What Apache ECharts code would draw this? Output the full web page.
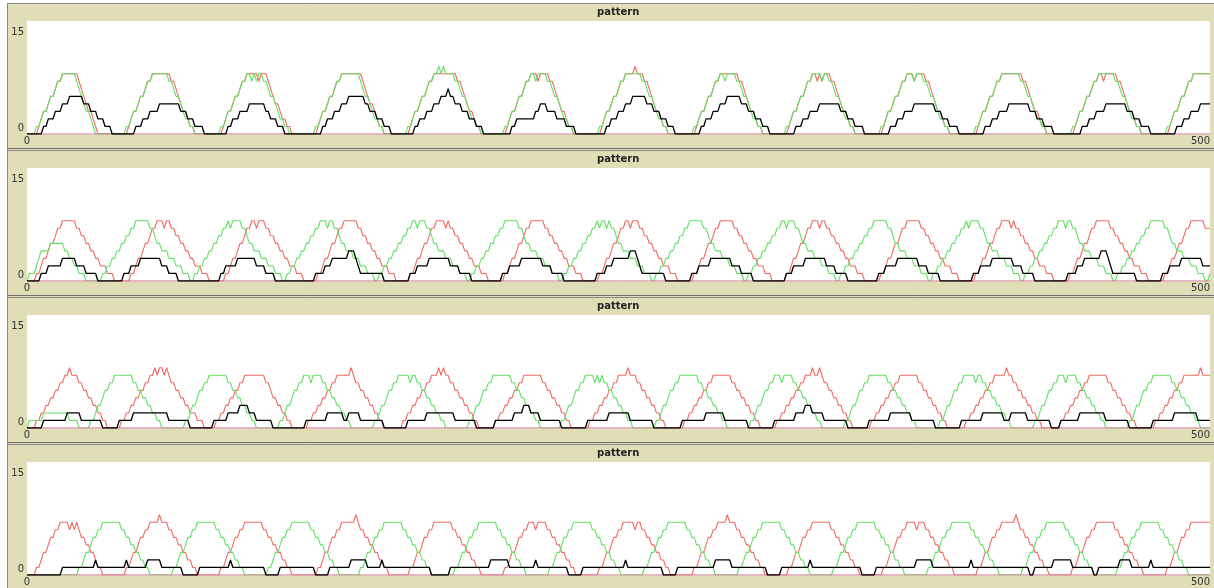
<!DOCTYPE html>
<html><head><meta charset="utf-8">
<script src="https://cdn.jsdelivr.net/npm/echarts@6/dist/echarts.min.js"></script>
<style>html,body{margin:0;padding:0;background:#fff}#c{width:1214px;height:588px}</style>
</head><body><div id="c"></div>
<script>
// ---------- tick labels ----------
const xTickValues = [0, 500];
const yTickValues = [0, 15];
const panelTitles = ['pattern', 'pattern', 'pattern', 'pattern'];
const baselineTicks = [0, 500];
const baselineValues = [0, 0];

// ---------- values per tick (digit strings) or [value, run] pairs ----------
// Panel 1
const p1Green = ["000",
 "0112334556778"+"88888"+"7654332100"+"0000000000",
 "0112334556778"+"888888"+"776554322110"+"000000000",
 "0112334556778"+"878788"+"776554322110"+"000000000",
 "0112334556778"+"8888888"+"76554322110"+"00000000",
 "0112334556778"+"89898888"+"776554322110"+"00000000",
 "0112334556778"+"878888"+"776554322110"+"000000000",
 "0112334556778"+"888888"+"776554322110"+"000000000",
 "0112334556778"+"878888"+"776554322110"+"00000000",
 "0112334556778"+"888788"+"776554322110"+"000000000",
 "0112334556778"+"887888"+"776554322110"+"000000000",
 "0112334556778"+"8888888"+"776554322110"+"000000000",
 "0112334556778"+"888888"+"776554322110"+"000000000",
 "0112334556778"+"8888888"];
const p1Red = ["000",
 "0012334556778"+"88888"+"8765433210"+"0000000000",
 "0012334556778"+"888888"+"877654332110"+"000000000",
 "0012334556778"+"888878"+"8876544322110"+"00000000",
 "0012334556778"+"8888888"+"87654432110"+"00000000",
 "0012334556778"+"88888888"+"877654332110"+"00000000",
 "0012334556778"+"887888"+"877654332110"+"000000000",
 "0012334556778"+"888988"+"877654332110"+"000000000",
 "0012334556778"+"888888"+"877654332110"+"00000000",
 "0012334556778"+"878788"+"877654332110"+"000000000",
 "0012334556778"+"887888"+"877654332110"+"000000000",
 "0012334556778"+"8888888"+"877654332110"+"000000000",
 "0012334556778"+"878888"+"877654332110"+"000000000",
 "0012334556778"+"8888888"];
const p1Black = ["000",
 "0000"+"11"+"222"+"333"+"444"+"555555"+"444"+"333"+"222"+"111"+"00000",
 "00000"+"111"+"222"+"3333"+"444444444"+"333"+"222"+"1111"+"000000",
 "0000"+"11"+"222"+"3333"+"4444444"+"33"+"222"+"111"+"000000000000",
 "0000"+"11"+"222"+"333"+"444"+"5555555"+"44"+"333"+"222"+"111"+"000000",
 "0000"+"11"+"222"+"333"+"444"+"555655"+"444"+"333"+"222"+"111"+"00000000",
 "0000"+"11"+"22222222"+"33"+"444"+"3333"+"2222"+"1111"+"000000000",
 "0000"+"11"+"222"+"333"+"444"+"555555"+"444"+"333"+"222"+"111"+"0000000",
 "0000"+"11"+"222"+"333"+"444"+"555555"+"444"+"333"+"222"+"111"+"000000",
 "00000"+"111"+"222"+"3333"+"444444444"+"333"+"222"+"1111"+"000000",
 "00000"+"111"+"222"+"3333"+"444444444"+"333"+"222"+"1111"+"000000",
 "00000"+"111"+"222"+"3333"+"444444444"+"333"+"222"+"1111"+"0000000",
 "00000"+"111"+"222"+"3333"+"444444444"+"333"+"222"+"1111"+"000000",
 "00000"+"111"+"222"+"3333"+"44444"];

// Panel 2
const p2Green = ["0111234444555555443322111000000",
 "011223344556677"+"888888"+"776554443332221110",
 "011223344556677"+"878888"+"776554443332221110",
 "011223344556677"+"888788"+"776554443332221110",
 "011223344556677"+"887888"+"776554443332221110",
 "011223344556677"+"888888"+"776554443332221110",
 "011223344556677"+"878878"+"776554443332221110",
 "011223344556677"+"888888"+"776554443332221110",
 "011223344556677"+"887888"+"776554443332221110",
 "011223344556677"+"888888"+"776554443332221110",
 "011223344556677"+"878888"+"776554443332221110",
 "011223344556677"+"888788"+"776554443332221110",
 "011223344556677"+"888888"+"776554443332221110",
 "01"];
const p2Red = ["000",
 "0112334556778"+"88888"+"776655443322211100"+"0000",
 "0112334556778"+"88788"+"776655443322211100"+"0000",
 "0112334556778"+"87888"+"776655443322211100"+"000",
 "0112334556778"+"88888"+"776655443322211100"+"000",
 "0112334556778"+"88878"+"776655443322211100"+"0000",
 "0112334556778"+"88888"+"776655443322211100"+"0000",
 "0112334556778"+"87888"+"776655443322211100"+"0000",
 "0112334556778"+"88888"+"776655443322211100"+"000",
 "0112334556778"+"88788"+"776655443322211100"+"0000",
 "0112334556778"+"88888"+"776655443322211100"+"0000",
 "0112334556778"+"88878"+"776655443322211100"+"0000",
 "0112334556778"+"88888"+"776655443322211100"+"0000",
 "0112334556778"+"88888"+"777"];
const p2Black = ["00000",
 "0"+"111"+"222222"+"333333"+"2222"+"11111"+"0000000000",
 "0"+"111"+"2222"+"333333333"+"222"+"1111"+"00000000000000000",
 "0"+"11"+"22222"+"33333333"+"2222"+"1111"+"0000000000000000",
 "0"+"1111"+"222"+"3333333"+"444"+"3"+"2"+"1111111111"+"0000000000",
 "0"+"111"+"22222"+"333333333"+"2222"+"11111"+"000000000000",
 "0"+"111"+"22222"+"333333333"+"2222"+"11111"+"0000000000000",
 "0"+"1111"+"222"+"3333333"+"444"+"3"+"2"+"1111111111"+"0000000000",
 "0"+"111"+"22222"+"333333333"+"2222"+"11111"+"0000000000000",
 "0"+"111"+"22222"+"333333333"+"2222"+"11111"+"000000000000",
 "0"+"111"+"22222"+"333333333"+"2222"+"11111"+"0000000000000",
 "0"+"111"+"22222"+"333333333"+"2222"+"11111"+"0000000000000",
 "0"+"1111"+"222"+"3333333"+"444"+"3"+"2"+"1111111111"+"0000000000",
 "0"+"111"+"22222"+"333333333"+"2222"];

// Panel 3
const p3Green = ["0"+"111111"+"22222222222"+"1111"+"0000",
 "0112334556677"+"777777"+"66554433221100"+"0000000",
 "0112334556677"+"777777"+"66554433221100"+"0000000",
 "0112334556677"+"767777"+"66554433221100"+"0000000",
 "0112334556677"+"777677"+"66554433221100"+"0000000",
 "0112334556677"+"777777"+"66554433221100"+"000000",
 "0112334556677"+"776767"+"66554433221100"+"0000000",
 "0112334556677"+"777777"+"66554433221100"+"0000000",
 "0112334556677"+"767777"+"66554433221100"+"0000000",
 "0112334556677"+"777777"+"66554433221100"+"0000000",
 "0112334556677"+"777677"+"66554433221100"+"0000000",
 "0112334556677"+"767777"+"66554433221100"+"0000000",
 "0112334556677"+"777777"+"66554433221100"+"000"];
const p3Red = ["000",
 "011223344556677"+"8777"+"665544332211"+"00000",
 "011223344556677"+"878878"+"7665544332221110"+"000",
 "01122334455667"+"77777777"+"665443322110"+"00000",
 "011223344556677"+"777787"+"6655443322110"+"000000",
 "011223344556677"+"787877"+"6655443322110"+"00000",
 "011223344556677"+"777777"+"6655443322110"+"000000",
 "011223344556677"+"778777"+"6655443322110"+"000000",
 "011223344556677"+"777777"+"6655443322110"+"00000",
 "011223344556677"+"787787"+"6655443322110"+"000000",
 "011223344556677"+"777777"+"6655443322110"+"000000",
 "011223344556677"+"777877"+"6655443322110"+"000000",
 "011223344556677"+"777777"+"6655443322110"+"000000",
 "011223344556677"+"7777787777"];
const p3Black = [[0,7],[1,10],[2,6],[1,9],[0,7],[1,6],[2,15],[1,9],[0,10],[1,6],[2,5],[3,4],[2,3],[1,7],[0,14],
 [1,9],[2,7],[1,2],[2,5],[1,10],[0,6],[0,4],[1,8],[2,12],[1,9],[0,8],[1,8],[2,4],[3,3],[2,4],[1,9],[0,11],
 [1,9],[2,9],[1,10],[0,12],[1,10],[2,8],[1,10],[0,11],[1,9],[2,4],[3,3],[2,5],[1,10],[0,9],[1,9],[2,9],[1,10],
 [0,11],[1,9],[2,9],[1,3],[2,7],[1,10],[0,4],[1,8],[2,11],[1,10],[0,10],[1,9],[2,10],[1,6]];

// Panel 4
const p4Red = ["000",
 "0112334556677"+"776767"+"65544332110"+"00000000",
 "0112334556677"+"778777"+"6655443322110"+"00000000",
 "0112334556677"+"777777"+"6655443322110"+"000000000",
 "0112334556677"+"777787"+"6655443322110"+"0000000",
 "0112334556677"+"777777"+"6655443322110"+"00000000",
 "0112334556677"+"767777"+"6655443322110"+"00000000",
 "0112334556677"+"777677"+"6655443322110"+"00000000",
 "0112334556677"+"778777"+"6655443322110"+"00000000",
 "0112334556677"+"777777"+"6655443322110"+"00000000",
 "0112334556677"+"776777"+"6655443322110"+"00000000",
 "0112334556677"+"777787"+"6655443322110"+"00000000",
 "0112334556677"+"777777"+"6655443322110"+"00000000",
 "0112334556677"+"7777777"];
const p4Green = ["000000000000000000000",
 "0112334556677"+"777777"+"6655443322110"+"00000000",
 "0112334556677"+"777777"+"6655443322110"+"00000000",
 "0112334556677"+"777777"+"6655443322110"+"0000000",
 "0112334556677"+"777777"+"6655443322110"+"00000000",
 "0112334556677"+"777777"+"6655443322110"+"00000000",
 "0112334556677"+"777777"+"6655443322110"+"00000000",
 "0112334556677"+"777777"+"6655443322110"+"00000000",
 "0112334556677"+"777777"+"6655443322110"+"00000000",
 "0112334556677"+"777777"+"6655443322110"+"00000000",
 "0112334556677"+"777777"+"6655443322110"+"00000000",
 "0112334556677"+"777777"+"6655443322110"+"00000000",
 "0112334556677"+"777777"+"6655443322110"+"000000000"];
const p4Black = [[0,15],[1,14],[2,1],[1,12],[2,1],[1,8],[2,6],[1,9],[0,7],[1,13],[2,1],[1,14],[0,6],[1,15],[0,6],
 [1,9],[2,7],[1,6],[2,1],[1,8],[1,12],[0,8],[1,17],[2,8],[1,11],[2,1],[1,13],[0,6],[1,18],[2,1],[1,15],[0,6],
 [1,16],[2,7],[1,15],[0,6],[1,12],[2,1],[1,21],[0,6],[1,17],[2,7],[1,16],[2,1],[1,24],[0,2],[1,8],[2,8],[1,9],
 [0,2],[1,9],[2,5],[1,8],[2,1],[1,25]];

// ---------- build ----------
function decode(parts) {
  const out = [];
  for (const p of parts) {
    if (typeof p === 'string') { for (const ch of p) out.push(+ch); }
    else { for (let i = 0; i < p[1]; i++) out.push(p[0]); }
  }
  return out.map((v, i) => [i, v]);
}
const panels = [
  {red: p1Red, green: p1Green, black: p1Black},
  {red: p2Red, green: p2Green, black: p2Black},
  {red: p3Red, green: p3Green, black: p3Black},
  {red: p4Red, green: p4Green, black: p4Black}
];
const COL = {red: '#f06a62', green: '#62e062', black: '#000000', pink: '#d8659f'};
const FONT = 'DejaVu Sans';
const grids = [], xAxes = [], yAxes = [], series = [], titles = [], graphics = [];
const W = 1214, STEP = 147;
graphics.push({type: 'rect', shape: {x: 0, y: 0, width: 7, height: 588}, style: {fill: '#fff'}, silent: true});
graphics.push({type: 'rect', shape: {x: 0, y: 0, width: W, height: 3}, style: {fill: '#fff'}, silent: true});
graphics.push({type: 'line', shape: {x1: 7.5, y1: 3, x2: 7.5, y2: 588}, style: {stroke: '#8a8a8a', lineWidth: 1}, silent: true});
panels.forEach((p, k) => {
  const top = 21 + STEP * k;
  const py = 3 + STEP * k;
  graphics.push({type: 'line', shape: {x1: 7, y1: py + 0.5, x2: W, y2: py + 0.5}, style: {stroke: '#8a8a8a', lineWidth: 1}, silent: true});
  if (k > 0) graphics.push({type: 'line', shape: {x1: 7, y1: py - 1.5, x2: W, y2: py - 1.5}, style: {stroke: '#6f6f6f', lineWidth: 1}, silent: true});
  grids.push({left: 27, right: 4, top: top, height: 113, show: true, backgroundColor: '#ffffff', borderWidth: 0});
  xAxes.push({gridIndex: k, type: 'value', min: xTickValues[0], max: xTickValues[1], interval: xTickValues[1] - xTickValues[0],
    axisLine: {show: false}, axisTick: {show: false}, splitLine: {show: false},
    axisLabel: {fontFamily: FONT, fontSize: 10, color: '#333', margin: 2, alignMaxLabel: 'right', showMinLabel: true, showMaxLabel: true}});
  yAxes.push({gridIndex: k, type: 'value', min: yTickValues[0], max: yTickValues[1], interval: yTickValues[1] - yTickValues[0],
    axisLine: {show: false}, axisTick: {show: false}, splitLine: {show: false},
    axisLabel: {margin: 3, showMinLabel: true, showMaxLabel: true,
      formatter: v => v === yTickValues[1] ? '{t|' + v + '}' : '{b|' + v + '}',
      rich: {t: {fontFamily: FONT, fontSize: 10, color: '#333', padding: [22, 0, 0, 0]},
             b: {fontFamily: FONT, fontSize: 10, color: '#333', padding: [0, 0, 11, 0]}}}});
  titles.push({text: panelTitles[k], left: 597, top: py + 4, padding: 0,
    textStyle: {fontFamily: FONT, fontSize: 10, fontWeight: 'bold', color: '#222'}});
  const common = {type: 'line', xAxisIndex: k, yAxisIndex: k, showSymbol: false, symbol: 'none', silent: true, animation: false};
  series.push(Object.assign({}, common, {name: 'red' + k, data: decode(p.red), lineStyle: {color: COL.red, width: 1.1}, z: 2}));
  series.push(Object.assign({}, common, {name: 'green' + k, data: decode(p.green), lineStyle: {color: COL.green, width: 1.1}, z: 3}));
  series.push(Object.assign({}, common, {name: 'base' + k, data: baselineTicks.map((t, i) => [t, baselineValues[i]]), lineStyle: {color: COL.pink, width: 1}, z: 4}));
  series.push(Object.assign({}, common, {name: 'black' + k, data: decode(p.black), lineStyle: {color: COL.black, width: 1.3}, z: 5}));
});
const chart = echarts.init(document.getElementById('c'), null, {renderer: 'canvas'});
chart.setOption({
  backgroundColor: '#dfdeb7',
  animation: false,
  title: titles, grid: grids, xAxis: xAxes, yAxis: yAxes, series: series,
  graphic: {elements: graphics}
});
</script></body></html>
